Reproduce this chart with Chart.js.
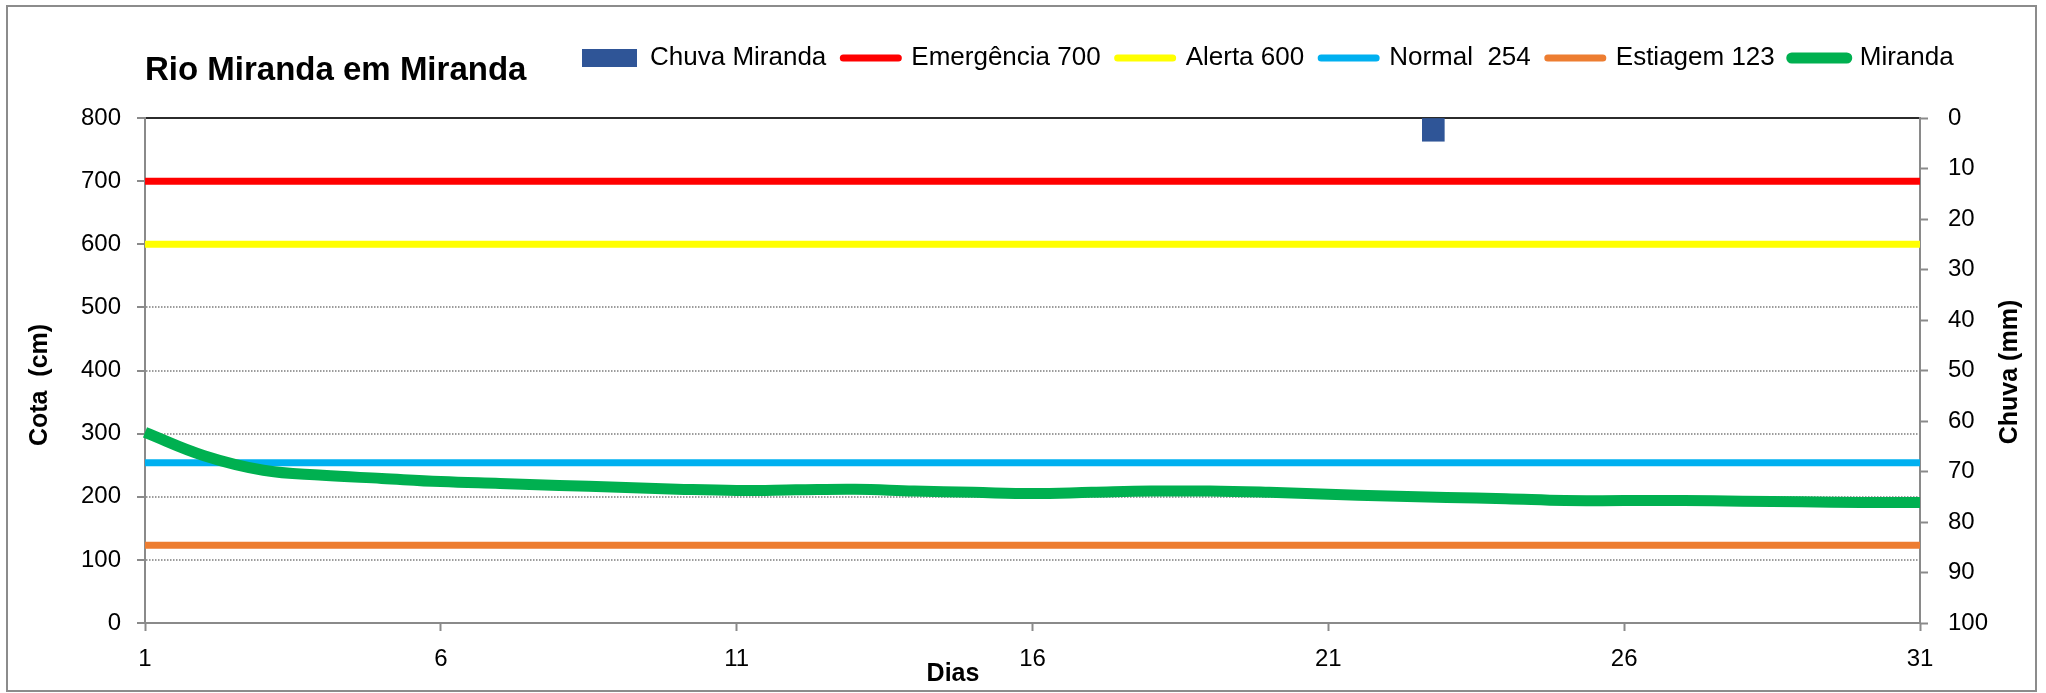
<!DOCTYPE html>
<html lang="pt-BR">
<head>
<meta charset="utf-8">
<title>Rio Miranda em Miranda</title>
<script src="https://cdn.jsdelivr.net/npm/chart.js@4/dist/chart.umd.min.js"></script>
<style>
  html, body { margin: 0; padding: 0; background: #fff; overflow: hidden; }
  #wrap { width: 2046px; height: 693px; }
</style>
</head>
<body>
<div id="wrap"><canvas id="chart" width="2046" height="693"></canvas></div>
<script>
// chart data
const dias = ['1','2','3','4','5','6','7','8','9','10','11','12','13','14','15','16',
  '17','18','19','20','21','22','23','24','25','26','27','28','29','30','31'];
const chuvaMiranda = [null,null,null,null,null,null,null,null,null,null,null,null,null,null,null,null,
  null,null,null,null,null,null,4.6,null,null,null,null,null,null,null,null];
const emergencia = [700,700,700,700,700,700,700,700,700,700,700,700,700,700,700,700,
  700,700,700,700,700,700,700,700,700,700,700,700,700,700,700];
const alerta = [600,600,600,600,600,600,600,600,600,600,600,600,600,600,600,600,
  600,600,600,600,600,600,600,600,600,600,600,600,600,600,600];
const normal = [254,254,254,254,254,254,254,254,254,254,254,254,254,254,254,254,
  254,254,254,254,254,254,254,254,254,254,254,254,254,254,254];
const estiagem = [123,123,123,123,123,123,123,123,123,123,123,123,123,123,123,123,
  123,123,123,123,123,123,123,123,123,123,123,123,123,123,123];
const miranda = [302,265,242,234,229,224,221,218,215,212,210,211,212,209,207,205,
  207,209,209,207,204,201,199,197,194,194,194,193,192,191,191];
const cotaTicks = [0, 800, 100];    // min, max, step
const chuvaTicks = [0, 100, 10];

const chartTitle = 'Rio Miranda em Miranda';
const yTitle = 'Cota  (cm)';
const y2Title = 'Chuva (mm)';
const xTitle = 'Dias';

Chart.defaults.font.family = '"Liberation Sans", Arial, sans-serif';
Chart.defaults.color = '#000';

const tickFont = { size: 24 };
const gray = '#8a8a8a';

// title, axis titles, outer frame + legend placement
const decor = {
  id: 'decor',
  afterLayout(chart) {
    const lg = chart.legend;
    if (!lg) return;
    const w = lg.right - lg.left;
    lg.left = 565;
    lg.right = 565 + w;
  },
  beforeDraw(chart) {
    const c = chart.ctx;
    c.save();
    c.fillStyle = '#fff';
    c.fillRect(0, 0, chart.width, chart.height);
    c.restore();
  },
  afterDraw(chart) {
    const c = chart.ctx;
    c.save();
    c.strokeStyle = '#8c8c8c';
    c.lineWidth = 2;
    c.strokeRect(7, 6, 2029, 685);

    c.fillStyle = '#000';
    c.font = 'bold 33px "Liberation Sans", Arial, sans-serif';
    c.textAlign = 'left';
    c.textBaseline = 'alphabetic';
    c.fillText(chartTitle, 145, 80);

    c.font = 'bold 25px "Liberation Sans", Arial, sans-serif';
    c.textAlign = 'center';
    c.textBaseline = 'middle';
    c.fillText(xTitle, 953, 674);

    c.save();
    c.translate(40, 385);
    c.rotate(-Math.PI / 2);
    c.fillText(yTitle, 0, 0);
    c.restore();

    c.save();
    c.translate(2010, 372);
    c.rotate(-Math.PI / 2);
    c.fillText(y2Title, 0, 0);
    c.restore();
    c.restore();
  }
};

function level(label, data, color, width, order) {
  return {
    type: 'line', label, data, order,
    borderColor: color, backgroundColor: color, borderWidth: width,
    pointRadius: 0, pointHoverRadius: 0, pointStyle: 'line',
    xAxisID: 'x', yAxisID: 'y', tension: 0.4
  };
}

new Chart(document.getElementById('chart'), {
  type: 'line',
  data: {
    labels: dias,
    datasets: [
      { type: 'bar', label: 'Chuva Miranda', data: chuvaMiranda, order: 0,
        backgroundColor: '#2F5597', borderWidth: 0, pointStyle: 'rect',
        xAxisID: 'x2', yAxisID: 'y2', grouped: false, barThickness: 22 },
      level('Emergência 700', emergencia, '#FF0000', 7, 5),
      level('Alerta 600', alerta, '#FFFF00', 7, 4),
      level('Normal  254', normal, '#00B0F0', 7, 3),
      level('Estiagem 123', estiagem, '#ED7D31', 7, 2),
      level('Miranda', miranda, '#00B050', 11, 1)
    ]
  },
  options: {
    responsive: false,
    devicePixelRatio: 1,
    animation: false,
    layout: { padding: { top: 28, left: 0, right: 0, bottom: 0 } },
    plugins: {
      title: { display: false },
      tooltip: { enabled: false },
      legend: {
        position: 'top',
        align: 'start',
        labels: {
          usePointStyle: true,
          pointStyleWidth: 55,
          boxHeight: 18,
          padding: 17,
          font: { size: 26 },
          color: '#000',
          sort: (a, b) => a.datasetIndex - b.datasetIndex,
          generateLabels(chart) {
            const items = Chart.defaults.plugins.legend.labels.generateLabels(chart);
            items.forEach(it => { it.lineCap = 'round'; });
            return items;
          }
        }
      }
    },
    scales: {
      x: {
        type: 'category',
        position: 'bottom',
        offset: false,
        grid: {
          drawOnChartArea: false,
          tickLength: 8,
          tickWidth: 2,
          tickColor: ctx => (ctx.index % 5 === 0 ? gray : 'rgba(0,0,0,0)')
        },
        border: { color: gray, width: 2 },
        ticks: {
          autoSkip: false, maxRotation: 0, minRotation: 0, padding: 14,
          font: tickFont, color: '#000',
          callback: (v, i) => (i % 5 === 0 ? dias[i] : '')
        },
        afterFit: s => { s.height = 70; }
      },
      x2: {
        type: 'category',
        position: 'top',
        offset: true,
        ticks: { display: false, autoSkip: false },
        grid: { display: false, drawTicks: false, offset: true },
        border: { display: true, color: '#2b2b2b', width: 2 },
        afterFit: s => {
          const lh = s.chart.legend ? s.chart.legend.height : 0;
          s.height = Math.max(0, 118 - 28 - lh);
        }
      },
      y: {
        position: 'left',
        min: cotaTicks[0], max: cotaTicks[1],
        ticks: { stepSize: cotaTicks[2], padding: 16, font: tickFont, color: '#000' },
        grid: { color: '#9c9c9c', lineWidth: 2, tickLength: 8, tickColor: gray, tickWidth: 2, tickBorderDash: [] },
        border: { color: gray, width: 2, dash: [1.5, 1.5] },
        afterFit: s => { s.width = 145; }
      },
      y2: {
        position: 'right',
        min: chuvaTicks[0], max: chuvaTicks[1],
        reverse: true,
        ticks: { stepSize: chuvaTicks[2], padding: 20, font: tickFont, color: '#000' },
        grid: { drawOnChartArea: false, tickLength: 8, tickColor: gray, tickWidth: 2 },
        border: { color: gray, width: 2 },
        afterFit: s => { s.width = 126; }
      }
    }
  },
  plugins: [decor]
});
</script>
</body>
</html>
